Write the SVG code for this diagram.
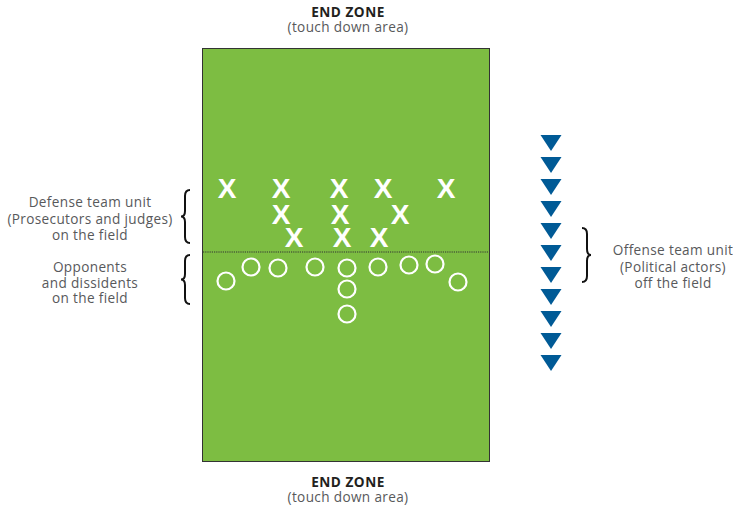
<svg xmlns="http://www.w3.org/2000/svg" width="733" height="508" viewBox="0 0 733 508">
<style>
.lbl{font-family:"Open Sans","Liberation Sans",sans-serif;font-size:13.6px;letter-spacing:0.35px;fill:#58595b;text-anchor:middle}
.ez{font-family:"Open Sans","Liberation Sans",sans-serif;font-size:13.6px;letter-spacing:0.5px;font-weight:bold;fill:#231f20;text-anchor:middle}
.x{font-family:"Liberation Sans",sans-serif;font-size:28px;font-weight:bold;fill:#fff;text-anchor:middle}
.o{fill:none;stroke:#fff;stroke-width:2.2}
.tri{fill:#005a96}
.brace{fill:none;stroke:#111;stroke-width:2}
</style>
<defs>
<polygon id="t" points="-10.5,0 10.5,0 0,16" class="tri"/>
</defs>
<rect width="733" height="508" fill="#fff"/>
<g id="field">
<rect x="202.5" y="48.5" width="287" height="413" fill="#7dbd42" stroke="#333" stroke-width="1"/>
<line x1="203" y1="252" x2="489" y2="252" stroke="#333" stroke-width="1" stroke-dasharray="1.2,1"/>
</g>
<g id="end-zone-top">
<text class="ez" x="348" y="17">END ZONE</text>
<text class="lbl" x="348" y="32">(touch down area)</text>
</g>
<g id="end-zone-bottom">
<text class="ez" x="348" y="487">END ZONE</text>
<text class="lbl" x="348" y="502">(touch down area)</text>
</g>
<g id="defense">
<text class="x" x="227" y="198">X</text>
<text class="x" x="281" y="198">X</text>
<text class="x" x="339" y="198">X</text>
<text class="x" x="383" y="198">X</text>
<text class="x" x="446" y="198">X</text>
<text class="x" x="281" y="224">X</text>
<text class="x" x="340" y="224">X</text>
<text class="x" x="400" y="224">X</text>
<text class="x" x="294" y="247">X</text>
<text class="x" x="342" y="247">X</text>
<text class="x" x="379" y="247">X</text>
</g>
<g id="opponents">
<circle class="o" cx="226" cy="281" r="8.5"/>
<circle class="o" cx="251" cy="267" r="8.5"/>
<circle class="o" cx="278" cy="268" r="8.5"/>
<circle class="o" cx="315" cy="267" r="8.5"/>
<circle class="o" cx="347" cy="268" r="8.5"/>
<circle class="o" cx="347" cy="289" r="8.5"/>
<circle class="o" cx="347" cy="314" r="8.5"/>
<circle class="o" cx="378" cy="267" r="8.5"/>
<circle class="o" cx="409" cy="265" r="8.5"/>
<circle class="o" cx="435" cy="264" r="8.5"/>
<circle class="o" cx="458" cy="282" r="8.5"/>
</g>
<g id="offense">
<use href="#t" x="551" y="135"/>
<use href="#t" x="551" y="157"/>
<use href="#t" x="551" y="179"/>
<use href="#t" x="551" y="201"/>
<use href="#t" x="551" y="223"/>
<use href="#t" x="551" y="245"/>
<use href="#t" x="551" y="267"/>
<use href="#t" x="551" y="289"/>
<use href="#t" x="551" y="311"/>
<use href="#t" x="551" y="333"/>
<use href="#t" x="551" y="355"/>
</g>
<g id="defense-label">
<path class="brace" d="M190 190 Q185 190 185 196 L185 211 Q185 216.5 181 216.5 Q185 216.5 185 222 L185 237 Q185 243 190 243"/>
<text class="lbl" x="90" y="207">Defense team unit</text>
<text class="lbl" x="90" y="224">(Prosecutors and judges)</text>
<text class="lbl" x="90" y="240">on the field</text>
</g>
<g id="opponents-label">
<path class="brace" d="M190 255 Q185 255 185 261 L185 274 Q185 279.5 181 279.5 Q185 279.5 185 285 L185 298 Q185 304 190 304"/>
<text class="lbl" x="90" y="272">Opponents</text>
<text class="lbl" x="90" y="288">and dissidents</text>
<text class="lbl" x="90" y="303">on the field</text>
</g>
<g id="offense-label">
<path class="brace" d="M582 228 Q587 228 587 234 L587 249 Q587 255 591 255 Q587 255 587 261 L587 276 Q587 282 582 282"/>
<text class="lbl" x="673" y="255">Offense team unit</text>
<text class="lbl" x="673" y="272">(Political actors)</text>
<text class="lbl" x="673" y="288">off the field</text>
</g>
</svg>
